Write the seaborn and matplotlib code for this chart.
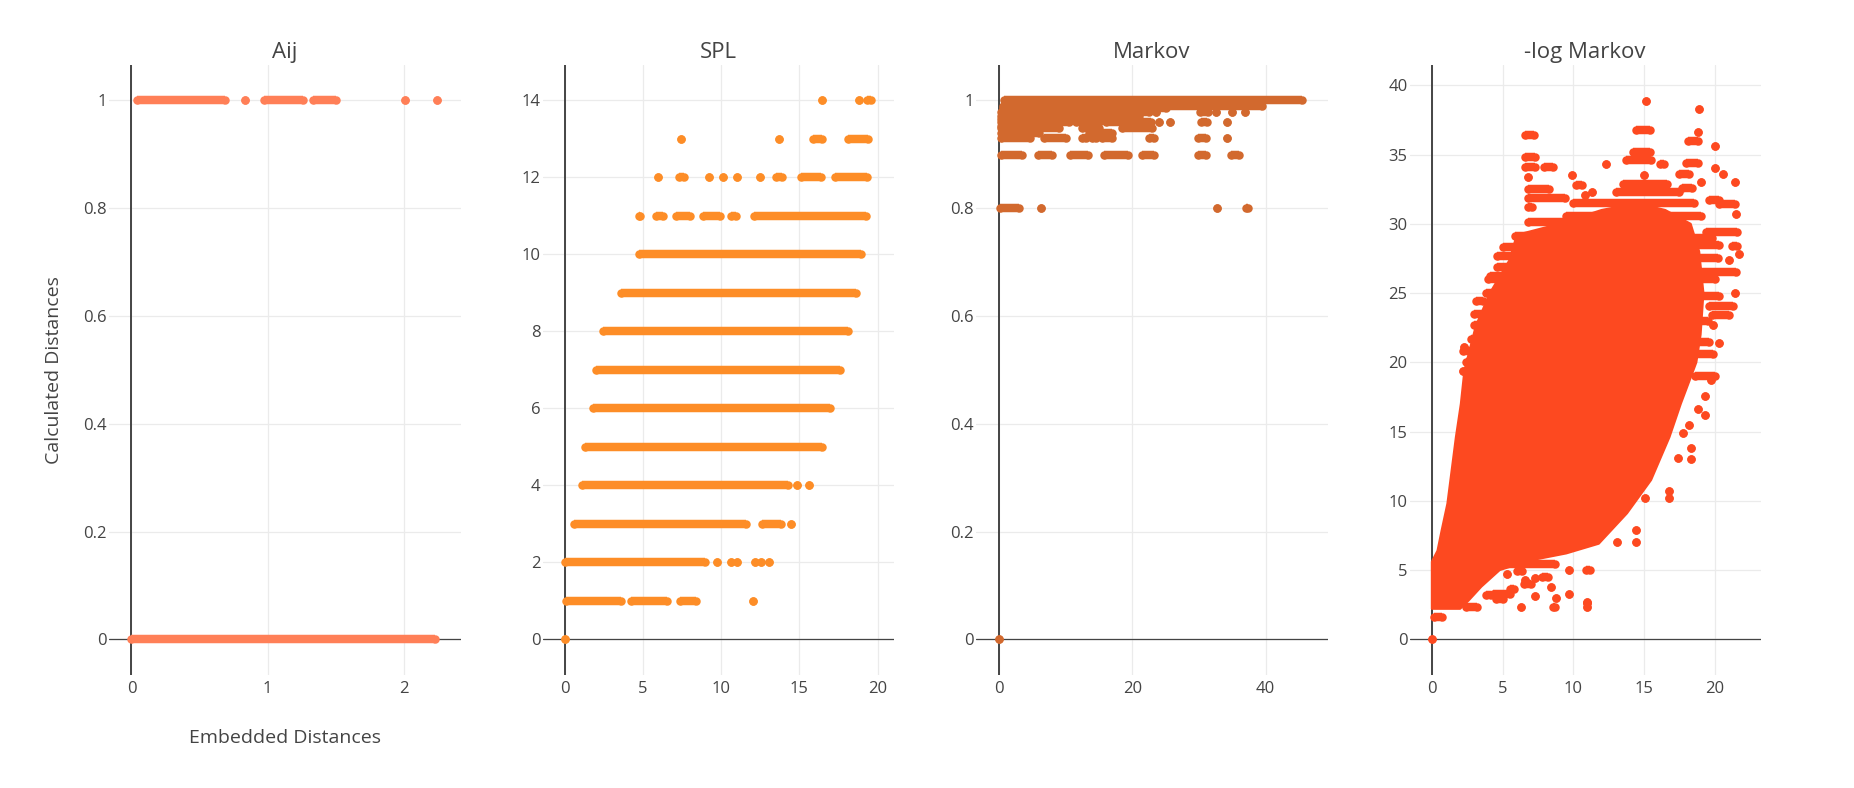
import pandas as pd
import matplotlib.pyplot as plt
import seaborn as sns

# ---- data (y level, segment start, segment end) ----
# Aij
aij_y = [1, 1, 1, 1, 1, 1, 0]
aij_x0 = [0.04, 0.83, 0.97, 1.33, 2.01, 2.245, 0.0]
aij_x1 = [0.69, 0.83, 1.26, 1.50, 2.01, 2.245, 2.23]

# SPL
spl_y = [14, 14, 14,
         13, 13, 13, 13,
         12, 12, 12, 12, 12, 12, 12, 12, 12,
         11, 11, 11, 11, 11, 11,
         10, 9, 8, 7, 6, 5,
         4, 4, 4,
         3, 3, 3,
         2, 2, 2, 2, 2, 2, 2,
         1, 1, 1, 1,
         0]
spl_x0 = [16.46, 18.81, 19.35,
          7.45, 13.7, 15.9, 18.1,
          6.0, 7.3, 9.2, 10.1, 11.0, 12.48, 13.5, 15.1, 17.3,
          4.76, 5.85, 7.14, 8.84, 10.63, 12.1,
          4.76, 3.63, 2.46, 1.99, 1.82, 1.29,
          1.14, 14.87, 15.65,
          0.61, 12.64, 14.44,
          0.0, 9.75, 10.62, 11.05, 12.2, 12.55, 13.07,
          0.08, 4.27, 7.38, 12.05,
          0.0]
spl_x1 = [16.46, 18.81, 19.6,
          7.45, 13.7, 16.45, 19.4,
          6.0, 7.6, 9.2, 10.1, 11.0, 12.48, 13.9, 16.4, 19.35,
          4.8, 6.28, 8.0, 9.93, 10.98, 19.25,
          18.92, 18.6, 18.1, 17.58, 16.94, 16.43,
          14.26, 14.87, 15.65,
          11.6, 13.81, 14.44,
          9.0, 9.75, 10.62, 11.05, 12.2, 12.55, 13.07,
          3.58, 6.57, 8.37, 12.05,
          0.0]

# Markov
mk_y = [1.0, 0.99, 0.985,
        0.979, 0.979, 0.979, 0.979, 0.979, 0.979,
        0.97, 0.965,
        0.959, 0.959, 0.959, 0.959, 0.959, 0.959, 0.959,
        0.953,
        0.948, 0.948, 0.948, 0.948,
        0.94, 0.94,
        0.931, 0.931, 0.931, 0.931, 0.931, 0.931, 0.931, 0.931,
        0.898, 0.898, 0.898, 0.898, 0.898, 0.898, 0.898,
        0.8, 0.8, 0.8, 0.8,
        0.0]
mk_x0 = [0.7, 0.6, 0.6,
         0.3, 23.6, 30.2, 32.6, 34.9, 36.9,
         0.3, 0.3,
         0.3, 11.5, 16.0, 24.0, 25.6, 30.3, 34.2,
         0.3,
         0.3, 4.2, 12.4, 18.5,
         0.3, 13.5,
         0.3, 6.8, 12.4, 14.0, 15.5, 22.5, 29.8, 34.2,
         0.3, 5.9, 10.7, 15.7, 21.5, 29.8, 34.8,
         0.15, 6.3, 32.7, 37.0,
         0.0]
mk_x1 = [45.5, 39.4, 25.0,
         22.5, 23.6, 31.4, 32.6, 34.9, 36.9,
         21.0, 14.0,
         10.5, 15.0, 22.8, 24.0, 25.6, 31.2, 34.2,
         8.0,
         3.7, 9.0, 15.0, 23.0,
         6.0, 17.0,
         4.6, 10.0, 13.0, 14.5, 17.0, 23.3, 31.0, 34.2,
         3.5, 8.0, 13.3, 19.3, 23.3, 31.0, 36.0,
         3.0, 6.3, 32.7, 37.4,
         0.0]

# -log Markov: outline of the dense core
core_x = [0.0, 0.0, 0.4, 0.7, 1.1, 1.4, 1.7, 2.05, 2.3, 2.5, 3.1, 4.1, 5.5, 6.0,
          9.0, 12.0, 14.5, 16.5, 18.3, 18.9, 19.2, 19.0, 18.7, 18.3, 17.6, 16.8,
          15.5, 13.8, 11.8, 9.5, 7.0, 4.8, 3.5, 2.6, 2.0]
core_y = [2.2, 5.6, 6.4, 7.9, 9.8, 12.2, 14.6, 17.0, 19.4, 20.2, 22.6, 25.0, 27.4, 29.2,
          30.0, 31.0, 31.5, 31.0, 30.0, 28.0, 25.0, 22.0, 20.0, 18.9, 17.0, 14.6,
          11.5, 9.1, 6.9, 6.2, 5.7, 5.0, 3.8, 2.8, 2.2]

# -log Markov: streaks and stray points around the core
nl_y = [36.4, 34.8, 34.1, 34.1, 33.4, 32.5, 31.9, 31.2, 30.1, 29.1, 27.7, 26.9, 26.2,
        25.0, 24.4, 22.7, 21.7, 21.1, 20.05, 19.4,
        38.9, 38.3, 36.8, 36.6, 36.0, 35.6, 35.2, 34.6, 34.3, 34.4, 34.3, 34.0, 33.6,
        33.6, 33.5, 33.5, 33.0, 33.0, 32.9, 32.8, 32.3, 32.1, 32.6, 31.7, 31.4, 30.7,
        29.4, 28.5, 28.4, 27.8, 27.4, 26.5, 25.0, 24.1, 23.4, 22.7, 21.4, 20.6, 19.0,
        31.5, 30.6, 32.3,
        29.0, 27.5, 26.0, 24.8, 23.0, 21.5,
        28.3, 26.0, 23.5, 20.8,
        1.6, 2.3, 2.3, 2.3, 2.6, 2.3, 3.1, 3.0, 3.3, 3.8, 4.4, 4.3, 4.7, 5.0, 5.0,
        7.0, 7.9, 7.0, 10.2, 10.7, 10.2, 13.1, 13.0, 13.8, 14.9, 15.5, 16.6, 16.2,
        18.7, 17.6, 3.2, 2.9, 3.6,
        5.4, 4.9, 4.5, 3.3, 4.0, 2.7,
        0.0]
nl_x0 = [6.6, 6.6, 6.6, 7.9, 6.8, 6.8, 6.8, 6.8, 6.8, 5.9, 4.6, 4.6, 4.1,
         3.8, 3.1, 3.0, 2.8, 2.3, 2.4, 2.2,
         15.15, 18.9, 14.4, 18.8, 18.1, 20.05, 14.2, 13.7, 12.3, 18.0, 16.1, 20.0, 20.6,
         17.5, 15.0, 9.9, 21.4, 19.0, 13.5, 10.2, 11.3, 10.8, 17.7, 19.6, 20.3, 21.5,
         19.4, 18.4, 21.2, 21.7, 21.0, 18.9, 21.4, 19.6, 19.8, 19.9, 20.3, 18.3, 18.6,
         10.0, 9.5, 13.0,
         17.0, 17.5, 18.0, 18.0, 18.0, 17.5,
         5.0, 4.0, 3.0, 2.2,
         0.15, 2.4, 6.3, 8.55, 11.0, 11.0, 7.3, 8.8, 9.7, 8.4, 7.3, 6.6, 5.3, 9.7, 10.9,
         13.1, 14.4, 14.4, 15.1, 16.8, 16.8, 17.4, 18.3, 18.3, 17.75, 18.2, 18.8, 19.3,
         19.7, 19.3, 3.85, 4.5, 5.5,
         5.0, 6.0, 7.8, 4.3, 6.5, 11.0,
         0.0]
nl_x1 = [7.2, 7.3, 7.3, 8.6, 6.8, 8.3, 9.4, 7.1, 10.0, 11.8, 6.2, 5.6, 5.4,
         4.9, 3.6, 3.6, 3.9, 2.3, 3.0, 2.2,
         15.15, 18.9, 15.4, 18.8, 18.8, 20.05, 15.4, 15.5, 12.3, 18.8, 16.4, 20.0, 20.6,
         18.2, 15.0, 9.9, 21.4, 19.0, 16.6, 10.6, 11.3, 10.8, 18.4, 20.3, 21.4, 21.5,
         21.6, 20.3, 21.6, 21.7, 21.0, 21.5, 21.4, 21.3, 21.0, 19.9, 20.3, 19.9, 20.0,
         18.5, 19.0, 17.5,
         19.8, 20.2, 20.0, 20.3, 19.5, 19.6,
         9.0, 7.0, 5.0, 4.0,
         0.7, 3.2, 6.3, 8.7, 11.0, 11.0, 7.3, 8.8, 9.7, 8.4, 7.3, 6.6, 5.3, 9.7, 11.2,
         13.1, 14.4, 14.4, 15.1, 16.8, 16.8, 17.4, 18.3, 18.3, 17.75, 18.2, 18.8, 19.3,
         19.7, 19.3, 4.2, 5.0, 5.8,
         8.7, 6.4, 8.2, 5.5, 7.0, 11.0,
         0.0]

titles = ['Aij', 'SPL', 'Markov', '-log Markov']
colors = ['#FF7F57', '#FD8D27', '#D2692E', '#FD4920']

sns.set_theme(style='white')
plt.rcParams['font.family'] = ['Open Sans', 'DejaVu Sans']
TXT = '#444444'
MS = 6.1  # marker diameter in points

W, H = 1854, 788
fig = plt.figure(figsize=(W / 100, H / 100), dpi=100)


def draw_segments(ax, ys, x0s, x1s, color):
    # dots at both ends of every run, joined by a bar of the same width
    pts = pd.DataFrame({'x': list(x0s) + list(x1s), 'y': list(ys) + list(ys)})
    ax.hlines(ys, x0s, x1s, colors=color, linewidth=MS, zorder=3)
    sns.scatterplot(data=pts, x='x', y='y', color=color, s=MS ** 2,
                    linewidth=0, ax=ax, zorder=3)


panels = [
    dict(xlim=(-0.165, 2.416), ylim=(-0.066, 1.0655), xt=[0, 1, 2],
         yt=[0, 0.2, 0.4, 0.6, 0.8, 1]),
    dict(xlim=(-1.41, 21.05), ylim=(-0.927, 14.92), xt=[0, 5, 10, 15, 20],
         yt=[0, 2, 4, 6, 8, 10, 12, 14]),
    dict(xlim=(-3.45, 49.27), ylim=(-0.066, 1.0655), xt=[0, 20, 40],
         yt=[0, 0.2, 0.4, 0.6, 0.8, 1]),
    dict(xlim=(-1.58, 23.27), ylim=(-2.58, 41.47), xt=[0, 5, 10, 15, 20],
         yt=[0, 5, 10, 15, 20, 25, 30, 35, 40]),
]

axes = []
for i, p in enumerate(panels):
    left = 109 + 433.5 * i
    ax = fig.add_axes([left / W, (H - 675) / H, 351.5 / W, 610 / H])
    axes.append(ax)
    ax.set_xlim(*p['xlim'])
    ax.set_ylim(*p['ylim'])
    ax.set_xticks(p['xt'])
    ax.set_yticks(p['yt'])
    ax.set_xticklabels([f'{v:g}' for v in p['xt']])
    ax.set_yticklabels([f'{v:g}' for v in p['yt']])
    ax.grid(True, color='#EBEBEB', linewidth=0.9, zorder=0)
    ax.set_axisbelow(True)
    for s in ax.spines.values():
        s.set_visible(False)
    ax.tick_params(axis='both', length=0, labelsize=12, labelcolor=TXT)
    ax.tick_params(axis='y', pad=1.5)
    ax.tick_params(axis='x', pad=4)
    ax.axvline(0, color=TXT, linewidth=1.4, zorder=2)
    ax.axhline(0, color=TXT, linewidth=0.9, zorder=2)
    ax.set_title(titles[i], fontsize=16, color=TXT, pad=5)

draw_segments(axes[0], aij_y, aij_x0, aij_x1, colors[0])
draw_segments(axes[1], spl_y, spl_x0, spl_x1, colors[1])
draw_segments(axes[2], mk_y, mk_x0, mk_x1, colors[2])
axes[3].fill(core_x, core_y, color=colors[3], linewidth=1.5,
             joinstyle='round', zorder=3)
draw_segments(axes[3], nl_y, nl_x0, nl_x1, colors[3])

for ax in axes:
    ax.set_xlabel('')
    ax.set_ylabel('')

axes[0].set_ylabel('Calculated Distances', fontsize=14, color=TXT)
axes[0].yaxis.set_label_coords(-0.13, 0.5)
axes[0].set_xlabel('Embedded Distances', fontsize=14, color=TXT)
axes[0].xaxis.set_label_coords(0.5, -0.088)

fig.savefig('out.png', dpi=100)
